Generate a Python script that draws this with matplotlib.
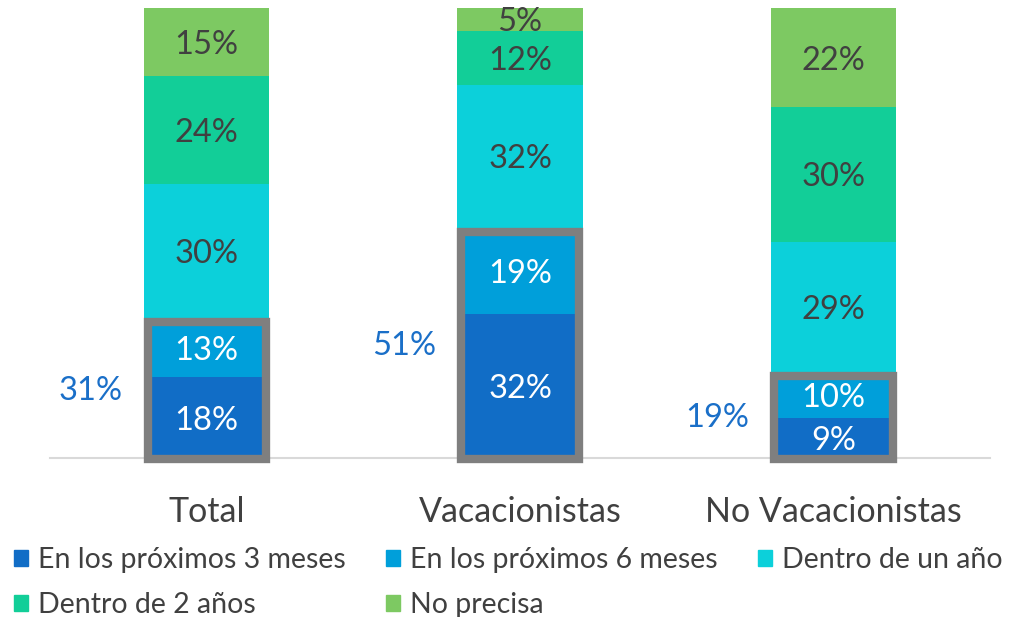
import matplotlib
matplotlib.use("Agg")
import matplotlib.pyplot as plt
from matplotlib.patches import Rectangle, Patch
import numpy as np

plt.rcParams['font.family'] = ['Lato', 'DejaVu Sans']

categories = ["Total", "Vacacionistas", "No Vacacionistas"]
series = ["En los próximos 3 meses", "En los próximos 6 meses",
          "Dentro de un año", "Dentro de 2 años", "No precisa"]
values = [
    [18, 32, 9],   # 3 meses
    [13, 19, 10],  # 6 meses
    [30, 32, 29],  # un año
    [24, 12, 30],  # 2 años
    [15, 5, 22],   # no precisa
]
short_term = [31, 51, 19]

colors = ["#116DC6", "#009FDA", "#0CD0DA", "#12CE98", "#7DC962"]
text_colors = ["white", "white", "#404040", "#404040", "#404040"]

fig = plt.figure(figsize=(10.13, 6.17), dpi=100)
ax = fig.add_axes([50 / 1013, 1 - 458 / 617, 940 / 1013, 450 / 617])

x = np.arange(len(categories))
width = 0.4
bottom = np.zeros(len(categories))
for i, vals in enumerate(values):
    vals = np.array(vals, dtype=float)
    ax.bar(x, vals, width, bottom=bottom, color=colors[i], label=series[i])
    for xi, v, b in zip(x, vals, bottom):
        ax.text(xi, b + v / 2, f"{int(v)}%", ha="center", va="center_baseline",
                fontsize=23.5, color=text_colors[i])
    bottom += vals

# grey frame around the short-term segments
px_x = 3 / 940
px_y = 100 / 450
for xi, tot in zip(x, short_term):
    left = xi - width / 2 + 3.5 * px_x
    ax.add_patch(Rectangle((left, -0.5 * px_y), width - 7 * px_x, tot - 3 * px_y,
                           fill=False, edgecolor="#7F7F7F", linewidth=6,
                           clip_on=False, zorder=3))
    ax.text(xi - 0.37, tot / 2, f"{tot}%", ha="center", va="center_baseline",
            fontsize=23.5, color="#1A6FC8", zorder=4)

ax.set_xlim(-0.5, 2.5)
ax.set_ylim(0, 100)
for s in ["top", "right", "left"]:
    ax.spines[s].set_visible(False)
ax.spines["bottom"].set_color("#D9D9D9")
ax.spines["bottom"].set_linewidth(1.5)
ax.set_yticks([])
ax.set_xticks(x)
ax.set_xticklabels(categories, fontsize=24.5, color="#404040")
ax.tick_params(axis="x", length=0, pad=27)

handles = [Patch(color=c) for c in colors]
order = [0, 3, 1, 4, 2]
fig.legend([handles[k] for k in order], [series[k] for k in order],
           loc="upper left", bbox_to_anchor=(0.014, 1 - 547 / 617), ncol=3,
           frameon=False, fontsize=20.5, labelcolor="#404040",
           borderpad=0, borderaxespad=0,
           handlelength=0.5, handleheight=0.5, handletextpad=0.35,
           columnspacing=1.4, labelspacing=0.66)

fig.savefig("out.png", dpi=100)
